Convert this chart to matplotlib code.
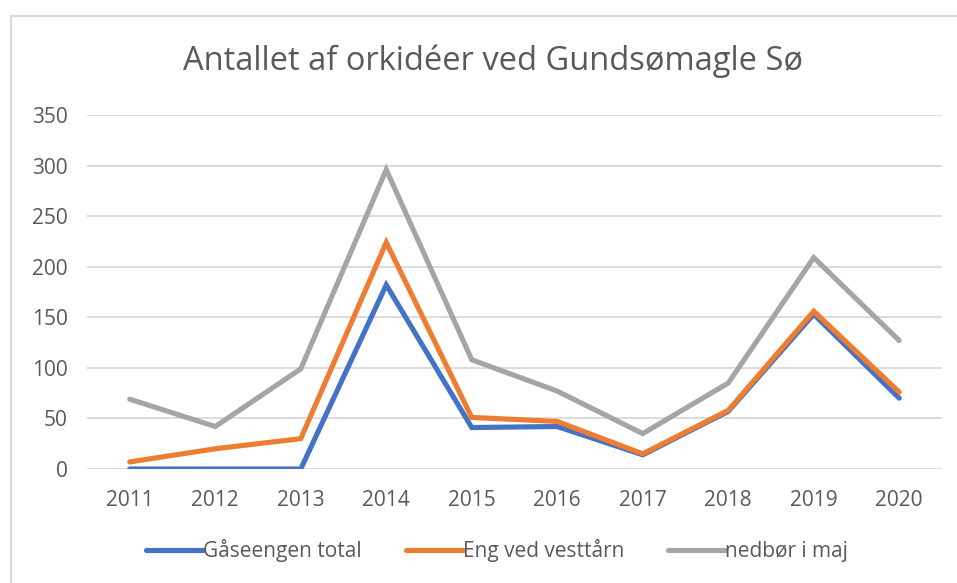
import matplotlib
matplotlib.use("Agg")
import matplotlib.pyplot as plt
from matplotlib.patches import Rectangle

years = ["2011", "2012", "2013", "2014", "2015", "2016", "2017", "2018", "2019", "2020"]
gaaseengen = [0, 0, 0, 182, 41, 42, 14, 57, 153, 70]
eng_vesttaarn = [7, 20, 30, 224, 51, 47, 15, 58, 156, 76]
nedboer = [69, 42, 99, 296, 108, 77, 35, 85, 209, 127]
series_names = ["Gåseengen total", "Eng ved vesttårn", "nedbør i maj"]
yticks = [0, 50, 100, 150, 200, 250, 300, 350]

plt.rcParams['font.family'] = ['Open Sans', 'DejaVu Sans']
txt = '#595959'

W, H = 957, 583
fig = plt.figure(figsize=(W / 100, H / 100), dpi=100)
fig.patch.set_facecolor('white')
fig.patches.append(Rectangle((11 / W, -0.1), 1.2, 1.1 - 16 / H, transform=fig.transFigure,
                             fill=False, edgecolor='#d9d9d9', linewidth=1.5))

ax = fig.add_axes([87 / W, 114 / H, 855 / W, 354 / H])
x = list(range(len(years)))
colors = ['#4472C4', '#ED7D31', '#A5A5A5']
for vals, name, c in zip([gaaseengen, eng_vesttaarn, nedboer], series_names, colors):
    ax.plot(x, vals, color=c, lw=3.7, label=name, solid_capstyle='round',
            solid_joinstyle='miter', zorder=3)

ax.set_xlim(-0.5, len(years) - 0.5)
ax.set_ylim(0, 350)
ax.set_yticks(yticks)
ax.set_yticklabels([str(v) for v in yticks])
ax.set_xticks(x)
ax.set_xticklabels(years)
ax.grid(axis='y', color='#d9d9d9', lw=1.3, zorder=0)
ax.set_axisbelow(True)
for s in ax.spines.values():
    s.set_visible(False)
ax.tick_params(axis='both', length=0, colors=txt, labelsize=15)
ax.tick_params(axis='y', pad=14)
ax.tick_params(axis='x', pad=15)

fig.text(493 / W, 1 - 61 / H, "Antallet af orkidéer ved Gundsømagle Sø", ha='center', va='center',
         fontsize=23.5, color=txt)

leg = ax.legend(loc='center', bbox_to_anchor=(497 / W, 1 - 551 / H), bbox_transform=fig.transFigure,
                ncol=3, frameon=False, fontsize=15, handlelength=2.75, handletextpad=0.0,
                columnspacing=2.1, labelcolor=txt)

fig.savefig('out.png', dpi=100, facecolor='white')
